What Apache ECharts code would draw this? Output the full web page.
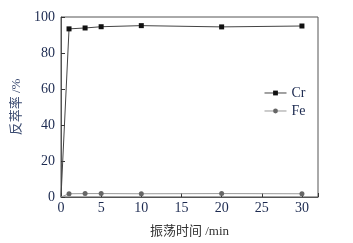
<!DOCTYPE html>
<html><head><meta charset="utf-8">
<script src="https://cdn.jsdelivr.net/npm/echarts@6/dist/echarts.min.js"></script>
<style>html,body{margin:0;padding:0;background:#fff}#c{width:353px;height:243px}</style>
</head><body><div id="c"></div>
<script>
const times = [0, 1, 3, 5, 10, 20, 30];
const crValues = [0, 93.4, 93.9, 94.6, 95.2, 94.5, 95.0];
const feValues = [0, 1.8, 1.9, 1.9, 1.8, 1.9, 1.8];
const xTicks = [0, 5, 10, 15, 20, 25, 30];
const yTicks = [0, 20, 40, 60, 80, 100];

const txt = '#1c2a50';
const font = '"Liberation Serif", "Noto Sans CJK SC", serif';
function mk(vals){
  return times.map((t,i)=> i===0 ? {value:[t, vals[i]], symbol:'none'} : [t, vals[i]]);
}
const chart = echarts.init(document.getElementById('c'));
chart.setOption({
  animation:false,
  textStyle:{fontFamily:font},
  grid:{left:61,right:35,top:17,bottom:39,show:true,borderColor:'#555',borderWidth:1},
  legend:{
    left:259, top:81, orient:'vertical', itemGap:4, itemWidth:22, itemHeight:6,
    lineStyle:{width:1},
    textStyle:{fontFamily:font,fontSize:14,color:txt},
    data:['Cr','Fe']
  },
  xAxis:{
    type:'value', min:0, max:32, interval:5,
    name:'振荡时间 /min', nameLocation:'middle', nameGap:28,
    nameTextStyle:{fontFamily:font,fontSize:13,color:'#333'},
    axisLine:{lineStyle:{color:'#555'}},
    axisTick:{inside:true,length:4,lineStyle:{color:'#333'}},
    axisLabel:{fontFamily:font,fontSize:14,color:txt,margin:4,
      formatter:v=> xTicks.includes(v)? String(v):''},
    splitLine:{show:false}
  },
  yAxis:{
    type:'value', min:0, max:100, interval:20,
    name:'反萃率 /%', nameLocation:'middle', nameGap:38,
    nameTextStyle:{fontFamily:font,fontSize:13,color:'#3a4a70'},
    axisLine:{lineStyle:{color:'#555'}},
    axisTick:{inside:true,length:4,lineStyle:{color:'#333'}},
    axisLabel:{fontFamily:font,fontSize:14,color:txt,margin:6,
      formatter:v=> yTicks.includes(v)? String(v):''},
    splitLine:{show:false}
  },
  series:[
    {name:'Cr',type:'line',data:mk(crValues),symbol:'rect',symbolSize:5,
     lineStyle:{color:'#444',width:1},itemStyle:{color:'#111'}},
    {name:'Fe',type:'line',data:mk(feValues),symbol:'circle',symbolSize:5,
     lineStyle:{color:'#999',width:1},itemStyle:{color:'#666'}}
  ]
});
</script></body></html>
